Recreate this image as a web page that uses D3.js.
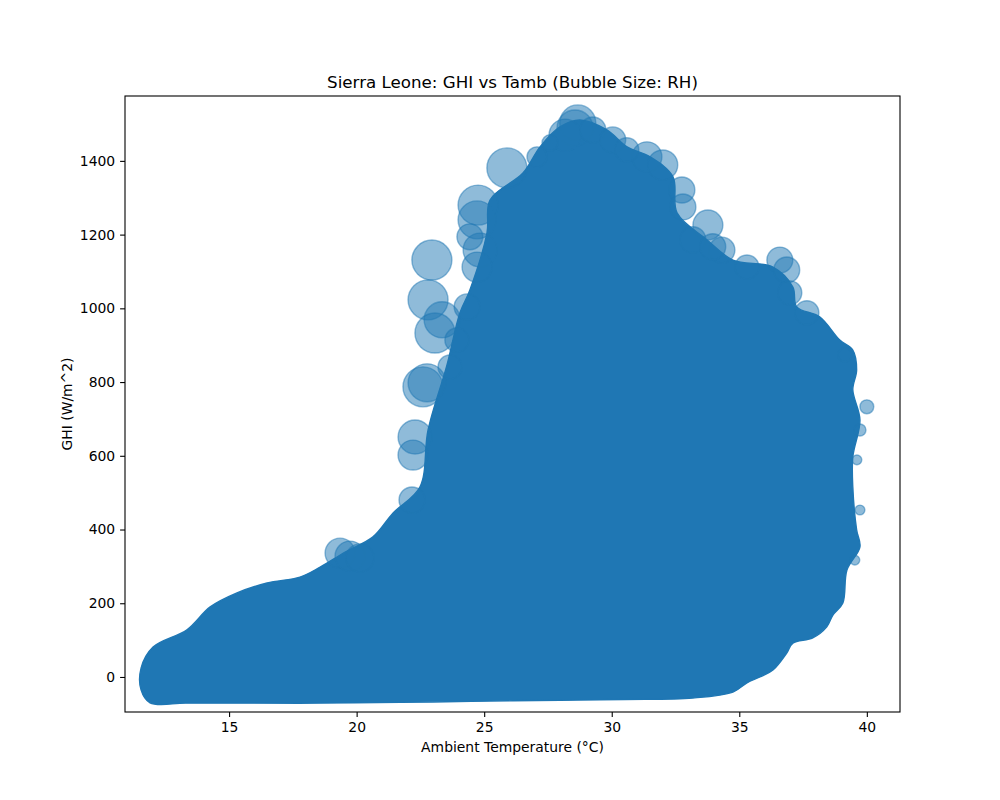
<!DOCTYPE html>
<html>
<head>
<meta charset="utf-8">
<script src="https://cdn.jsdelivr.net/npm/d3@7"></script>
<style>
  body { margin: 0; background: #fff; }
  svg { font-family: "DejaVu Sans", sans-serif; }
</style>
</head>
<body>
<svg id="chart" width="1000" height="800"></svg>
<script>
// outline of the dense part of the cloud (Tamb °C, GHI W/m^2), clockwise from bottom-left
const coreTamb = [11.9, 11.55, 11.55, 12.02, 13.35, 14.26, 15.31, 16.49, 17.78, 18.57, 19.55, 20.64,
  21.43, 22.48, 22.8, 23.54, 24.05, 24.44, 25.11, 25.23, 26.52, 27.19, 27.97, 28.75, 29.81, 30.6,
  31.5, 32.4, 32.56, 33.73, 34.75, 36.32, 37.1, 37.25, 38.15, 38.94, 39.45, 39.6, 39.45, 39.73,
  39.45, 39.45, 39.6, 39.73, 39.22, 39.06, 38.67, 38.43, 37.88, 37.1, 36.86, 36.32, 35.81, 35.3,
  34.75, 33.18, 30.5, 27.97, 24.5, 21.7, 18.5, 15.5, 13.3]
const coreGhi = [-70, -35, 24, 81, 128, 190, 228, 255, 271, 298, 339, 380,
  445, 515, 670, 846, 988, 1050, 1205, 1294, 1367, 1438, 1492, 1511, 1484, 1438,
  1411, 1357, 1259, 1186, 1131, 1112, 1058, 1004, 977, 914, 887, 833, 779, 697,
  597, 515, 399, 353, 290, 201, 168, 136, 106, 92, 65, 19, 0, -16,
  -41, -57, -61, -63, -66, -69, -71, -71, -71]

// single bubbles that stand out at the edge of the cloud
const edgeTamb = [28.67, 28.56, 28.17, 31.38, 32.0, 32.75, 32.79, 33.77, 34.32, 35.3, 36.59, 36.86,
  36.98, 37.65, 25.89, 24.76, 24.72, 24.84, 22.95, 22.8, 23.35, 23.07, 22.6, 22.76, 22.29, 22.21,
  22.17, 19.35, 19.74, 20.13, 40.0, 39.73, 39.61, 39.73, 39.53, 39.14,
  27.07, 27.58, 29.26, 30.04, 30.59, 33.18, 33.96, 24.44, 24.72, 24.33, 23.93, 23.66]
const edgeGhi = [1503, 1489, 1470, 1411, 1389, 1321, 1275, 1226, 1158, 1112, 1131, 1104,
  1042, 988, 1381, 1280, 1240, 1158, 1131, 1023, 969, 933, 787, 798, 651, 602,
  480, 336, 328, 323, 733, 670, 589, 453, 317, 874,
  1411, 1449, 1484, 1457, 1430, 1186, 1167, 1194, 1112, 1004, 914, 841]
const edgeRh = [81, 81, 64, 56, 56, 42, 42, 56, 42, 36, 42, 42,
  36, 36, 100, 100, 90, 72, 100, 100, 81, 100, 100, 90, 72, 56,
  42, 56, 56, 49, 12, 9, 6, 6, 6, 12,
  25, 16, 42, 42, 36, 42, 42, 42, 56, 42, 36, 36]

const xTicks = [15, 20, 25, 30, 35, 40]
const yTicks = [0, 200, 400, 600, 800, 1000, 1200, 1400]

const blue = '#1f77b4'
const margin = { left: 125, right: 100, top: 96, bottom: 88 }
const W = 1000, H = 800

const svg = d3.select('#chart')

const x = d3.scaleLinear().domain([10.92, 41.3]).range([margin.left, W - margin.right])
const y = d3.scaleLinear().domain([-95, 1576]).range([H - margin.bottom, margin.top])
const r = d3.scaleSqrt().domain([0, 100]).range([0, 20])

svg.append('clipPath').attr('id', 'plot')
  .append('rect')
  .attr('x', margin.left).attr('y', margin.top)
  .attr('width', W - margin.left - margin.right)
  .attr('height', H - margin.top - margin.bottom)

const g = svg.append('g').attr('clip-path', 'url(#plot)')

const core = coreTamb.map((t, i) => [t, coreGhi[i]])
g.append('path')
  .datum(core)
  .attr('d', d3.line().x(d => x(d[0])).y(d => y(d[1])).curve(d3.curveCatmullRomClosed.alpha(0.5)))
  .attr('fill', blue)
  .attr('stroke', blue)
  .attr('stroke-width', 1.4)

const edge = edgeTamb.map((t, i) => ({ t: t, ghi: edgeGhi[i], rh: edgeRh[i] }))
g.selectAll('circle')
  .data(edge)
  .enter()
  .append('circle')
  .attr('cx', d => x(d.t))
  .attr('cy', d => y(d.ghi))
  .attr('r', d => r(d.rh))
  .attr('fill', blue)
  .attr('fill-opacity', 0.5)
  .attr('stroke', blue)
  .attr('stroke-opacity', 0.5)
  .attr('stroke-width', 1.4)

// axes
const xAxis = svg.append('g')
  .attr('transform', `translate(0,${H - margin.bottom})`)
  .call(d3.axisBottom(x).tickValues(xTicks).tickFormat(d3.format('d')).tickSize(4.9).tickPadding(4.9))
const yAxis = svg.append('g')
  .attr('transform', `translate(${margin.left},0)`)
  .call(d3.axisLeft(y).tickValues(yTicks).tickFormat(d3.format('d')).tickSize(4.9).tickPadding(4.9))

;[xAxis, yAxis].forEach(a => {
  a.select('.domain').remove()
  a.selectAll('line').attr('stroke', '#000').attr('stroke-width', 1.1)
  a.selectAll('text').attr('font-size', 13.9).attr('fill', '#000')
    .attr('font-family', '"DejaVu Sans", sans-serif')
})

svg.append('rect')
  .attr('x', margin.left).attr('y', margin.top)
  .attr('width', W - margin.left - margin.right)
  .attr('height', H - margin.top - margin.bottom)
  .attr('fill', 'none')
  .attr('stroke', '#000')
  .attr('stroke-width', 1.1)

svg.append('text')
  .attr('x', (margin.left + W - margin.right) / 2)
  .attr('y', 88)
  .attr('text-anchor', 'middle')
  .attr('font-size', 16.7)
  .text('Sierra Leone: GHI vs Tamb (Bubble Size: RH)')

svg.append('text')
  .attr('x', (margin.left + W - margin.right) / 2)
  .attr('y', 752)
  .attr('text-anchor', 'middle')
  .attr('font-size', 13.9)
  .text('Ambient Temperature (°C)')

svg.append('text')
  .attr('transform', 'translate(72,404) rotate(-90)')
  .attr('text-anchor', 'middle')
  .attr('font-size', 13.9)
  .text('GHI (W/m^2)')
</script>
</body>
</html>
